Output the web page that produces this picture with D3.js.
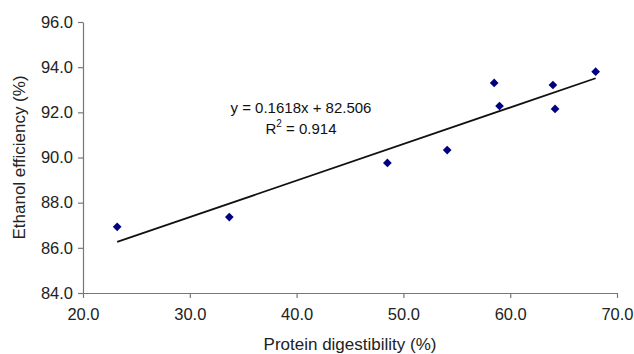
<!DOCTYPE html>
<html>
<head>
<meta charset="utf-8">
<script src="https://cdn.jsdelivr.net/npm/d3@7"></script>
<style>
  body { margin: 0; background: #fff; }
  svg { display: block; font-family: Arial, "Liberation Sans", sans-serif; }
</style>
</head>
<body>
<div id="chart"></div>
<script>

// protein digestibility (%) vs ethanol efficiency (%)
const protein = [23.2, 33.7, 48.5, 54.1, 58.5, 59.0, 64.0, 64.2, 68.0];
const ethanol = [86.93, 87.36, 89.76, 90.33, 93.30, 92.28, 93.21, 92.15, 93.8];

const xTicks = [20, 30, 40, 50, 60, 70];
const yTicks = [84, 86, 88, 90, 92, 94, 96];

// linear trendline as reported on the chart
const slope = 0.1618;
const intercept = 82.506;
const rSquared = 0.914;

const width = 634;
const height = 354;

const svg = d3.select("#chart")
  .append("svg")
  .attr("width", width)
  .attr("height", height);

const x = d3.scaleLinear()
  .domain([20, 70])
  .range([83, 617]);

const y = d3.scaleLinear()
  .domain([84, 96])
  .range([293, 22]);

const fmt = d3.format(".1f");

// x axis
const xAxis = svg.append("g")
  .attr("transform", `translate(0,${y(84)})`)
  .call(d3.axisBottom(x)
    .tickValues(xTicks)
    .tickFormat(fmt)
    .tickSize(5)
    .tickSizeOuter(0)
    .tickPadding(10));

// y axis
const yAxis = svg.append("g")
  .attr("transform", `translate(${x(20)},0)`)
  .call(d3.axisLeft(y)
    .tickValues(yTicks)
    .tickFormat(fmt)
    .tickSize(5)
    .tickSizeOuter(0)
    .tickPadding(5));

[xAxis, yAxis].forEach(ax => {
  ax.select(".domain").attr("stroke", "#777").attr("stroke-width", 1.2);
  ax.selectAll(".tick line").attr("stroke", "#777").attr("stroke-width", 1.2);
  ax.selectAll(".tick text")
    .attr("fill", "#222")
    .style("font-size", "16.5px");
});

// axis titles
svg.append("text")
  .attr("x", (x(20) + x(70)) / 2)
  .attr("y", 350)
  .attr("text-anchor", "middle")
  .attr("fill", "#222")
  .style("font-size", "17px")
  .text("Protein digestibility (%)");

svg.append("text")
  .attr("transform", `translate(25,${(y(84) + y(96)) / 2}) rotate(-90)`)
  .attr("text-anchor", "middle")
  .attr("fill", "#222")
  .style("font-size", "17px")
  .text("Ethanol efficiency (%)");

// trendline across the data range
const xMin = d3.min(protein);
const xMax = d3.max(protein);

svg.append("line")
  .attr("x1", x(xMin))
  .attr("y1", y(slope * xMin + intercept))
  .attr("x2", x(xMax))
  .attr("y2", y(slope * xMax + intercept))
  .attr("stroke", "#111")
  .attr("stroke-width", 1.8);

// diamond markers
const diamond = d3.symbol().type(d3.symbolSquare).size(38);

svg.selectAll(".pt")
  .data(protein)
  .enter()
  .append("path")
  .attr("class", "pt")
  .attr("d", diamond)
  .attr("transform", (d, i) => `translate(${x(d)},${y(ethanol[i])}) rotate(45)`)
  .attr("fill", "#000080");

// equation label
const eq = svg.append("text")
  .attr("x", 301)
  .attr("y", 113)
  .attr("text-anchor", "middle")
  .attr("fill", "#111")
  .style("font-size", "15px")
  .text(`y = ${slope}x + ${intercept}`);

const r2 = svg.append("text")
  .attr("x", 301)
  .attr("y", 134)
  .attr("text-anchor", "middle")
  .attr("fill", "#111")
  .style("font-size", "15px");

r2.append("tspan").text("R");
r2.append("tspan").attr("dy", -7).style("font-size", "10px").text("2");
r2.append("tspan").attr("dy", 7).text(` = ${rSquared}`);

</script>
</body>
</html>
